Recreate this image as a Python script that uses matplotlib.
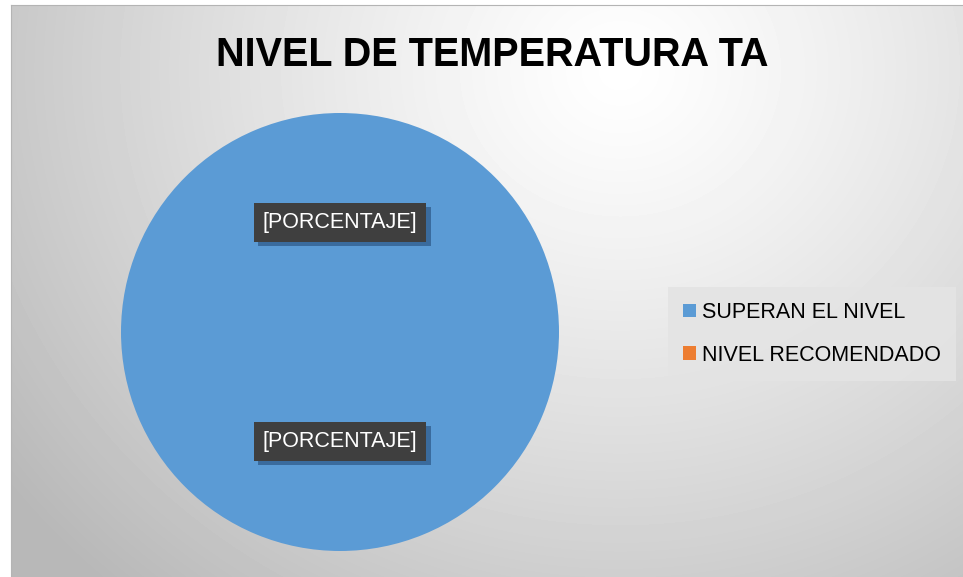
import matplotlib.pyplot as plt
import numpy as np
import matplotlib.patheffects as pe

# datos
categorias = ['SUPERAN EL NIVEL', 'NIVEL RECOMENDADO']
valores = [100, 0]
colores = ['#5B9BD5', '#ED7D31']
titulo = 'NIVEL DE TEMPERATURA TA'
etiqueta = '[PORCENTAJE]'

fuente = ['Liberation Sans Narrow', 'Liberation Sans', 'DejaVu Sans']
plt.rcParams['font.family'] = fuente

W, H = 963, 577
fig = plt.figure(figsize=(W / 100, H / 100), dpi=100, facecolor='white')

# fondo con degradado radial (zona del grafico)
x0, y0 = 11, 5
bg = fig.add_axes([x0 / W, 0, (W - x0) / W, (H - y0) / H])
xx, yy = np.meshgrid(np.arange(x0, W), np.arange(y0, H))
d = np.hypot(xx - 620, (yy - 70) * 1.1)
v = np.clip(1.0 - 0.23 * (d / 650) ** 1.2, 0.72, 1.0)
bg.imshow(v, cmap='gray', vmin=0, vmax=1, aspect='auto', interpolation='bilinear')
bg.set_xticks([])
bg.set_yticks([])
for s in bg.spines.values():
    s.set_visible(False)
bg.spines['top'].set_visible(True)
bg.spines['left'].set_visible(True)
bg.spines['top'].set_color('#b4b4b4')
bg.spines['left'].set_color('#b4b4b4')

# titulo
fig.text(492 / W, 1 - 55 / H, titulo, ha='center', va='center',
         fontsize=28.5, fontweight='bold', color='#000000')

# pastel
cx, cy, r = 340, 332, 219
ax = fig.add_axes([(cx - r) / W, 1 - (cy + r) / H, 2 * r / W, 2 * r / H])
ax.set_facecolor('none')
wedges, textos, autotextos = ax.pie(
    valores, colors=colores, startangle=90, counterclock=False,
    autopct=lambda p: etiqueta, pctdistance=0.5,
    wedgeprops=dict(linewidth=0))
ax.set_xlim(-1, 1)
ax.set_ylim(-1, 1)
ax.set_aspect('equal')
ax.axis('off')

for t in autotextos:
    t.set_color('white')
    t.set_fontsize(15.5)
    t.set_bbox(dict(facecolor='#3f3f3f', edgecolor='none', pad=6.5))
    t.get_bbox_patch().set_path_effects([
        pe.SimplePatchShadow(offset=(3, -3), shadow_rgbFace='#1a3d66', alpha=0.5),
        pe.Normal()])

# leyenda
leg = fig.legend(wedges, categorias, loc='upper left',
                 bbox_to_anchor=(668 / W, 1 - 287 / H),
                 fontsize=15.5, frameon=True, fancybox=False,
                 handlelength=0.6, handleheight=0.6, handletextpad=0.3,
                 labelspacing=1.0, borderpad=0.7, borderaxespad=0)
leg.get_frame().set_facecolor('#e4e4e4')
leg.get_frame().set_edgecolor('none')
leg.get_frame().set_alpha(0.9)

fig.savefig('out.png', dpi=100, facecolor='white')
